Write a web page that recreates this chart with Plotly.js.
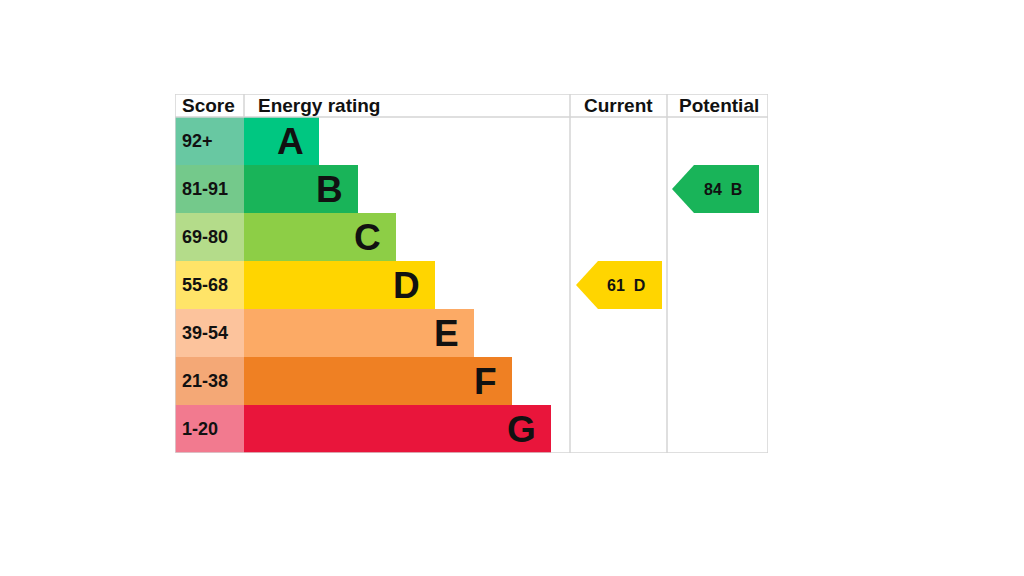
<!DOCTYPE html>
<html><head><meta charset="utf-8">
<script src="https://cdn.plot.ly/plotly-3.0.1.min.js"></script>
<style>html,body{margin:0;padding:0;background:#fff}#chart{width:1024px;height:576px}</style>
</head><body><div id="chart"></div>
<script>
// ---- data ----
const bands = ['A','B','C','D','E','F','G'];
const scoreRanges = ['92+','81-91','69-80','55-68','39-54','21-38','1-20'];
const bandMin = [92,81,69,55,39,21,1];
const currentScore = 61;
const potentialScore = 84;
const headers = ['Score','Energy rating','Current','Potential'];
const barColors = ['#00c781','#19b459','#8dce46','#ffd500','#fcaa65','#ef8023','#e9153b'];
const scoreColors = ['#68c8a2','#74c98b','#b4dc8a','#ffe468','#fcc39c','#f4a876','#f27a8f'];

// ---- geometry (table units = px inside plot area) ----
const W = 593, scoreW = 69, bar0 = 75, barStep = 38.67;
const curL = 395, curR = 492, potL = 492, potR = 593;
const headH = 23/48;
const FONT = '"Liberation Sans", Arial, sans-serif';
const GRID = '#d4d4d4';

const rows = bands.map((_, i) => i + 0.5);
const barLen = bands.map((_, i) => bar0 + i * barStep);
const bandIndex = s => bandMin.findIndex(m => s >= m);

const traces = [
  {type:'bar', orientation:'h', y:rows, x:bands.map(()=>scoreW), base:0, width:1,
   marker:{color:scoreColors, line:{width:0}}, hoverinfo:'skip', showlegend:false},
  {type:'bar', orientation:'h', y:rows, x:barLen, base:scoreW, width:1,
   marker:{color:barColors, line:{width:0}}, hoverinfo:'skip', showlegend:false}
];

const annotations = [];
scoreRanges.forEach((s, i) => annotations.push({x:5, y:rows[i], xref:'x', yref:'y', text:s,
  xanchor:'left', yanchor:'middle', showarrow:false,
  font:{family:FONT, size:18, weight:'bold', color:'#111'}}));
bands.forEach((b, i) => annotations.push({x:scoreW + barLen[i] - 13, y:rows[i], xref:'x', yref:'y', text:b,
  xanchor:'right', yanchor:'middle', showarrow:false,
  font:{family:FONT, size:37, weight:'bold', color:'#111'}}));
const headX = [5, 81, (curL+curR)/2, (potL+potR)/2 + 1];
const headA = ['left','left','center','center'];
headers.forEach((h, i) => annotations.push({x:headX[i], y:-headH/2, xref:'x', yref:'y', text:h,
  xanchor:headA[i], yanchor:'middle', showarrow:false,
  font:{family:FONT, size:19, weight:'bold', color:'#111'}}));

function arrow(score, L, R, padL, padR) {
  const i = bandIndex(score);
  const tip = L + padL, body = tip + 22, right = R - padR;
  traces.push({type:'scatter', mode:'lines', fill:'toself', fillcolor:barColors[i],
    line:{width:0, color:barColors[i]}, hoverinfo:'skip', showlegend:false,
    x:[tip, body, right, right, body, tip], y:[rows[i], i, i, i+1, i+1, rows[i]]});
  annotations.push({x:(tip+right)/2 + 7, y:rows[i], xref:'x', yref:'y',
    text:score + '\u00a0\u00a0' + bands[i], xanchor:'center', yanchor:'middle', showarrow:false,
    font:{family:FONT, size:16, weight:'bold', color:'#111'}});
}
arrow(currentScore, curL, curR, 6, 5);
arrow(potentialScore, potL, potR, 5, 9);

const line = (x0,y0,x1,y1) => ({type:'line', xref:'x', yref:'y', x0, y0, x1, y1, line:{color:GRID, width:1.5}});
const shapes = [
  line(0,-headH,W,-headH), line(0,7,W,7), line(0,-headH,0,7), line(W,-headH,W,7),
  line(0,0,W,0), line(scoreW,-headH,scoreW,0), line(curL,-headH,curL,7), line(curR,-headH,curR,7)
];

Plotly.newPlot('chart', traces, {
  width:1024, height:576, margin:{l:175, r:256, t:94, b:123},
  paper_bgcolor:'#fff', plot_bgcolor:'#fff', barmode:'overlay', bargap:0,
  xaxis:{range:[0,W], visible:false, fixedrange:true},
  yaxis:{range:[7,-headH], visible:false, fixedrange:true},
  shapes, annotations, showlegend:false
}, {staticPlot:true, displayModeBar:false});
</script></body></html>
